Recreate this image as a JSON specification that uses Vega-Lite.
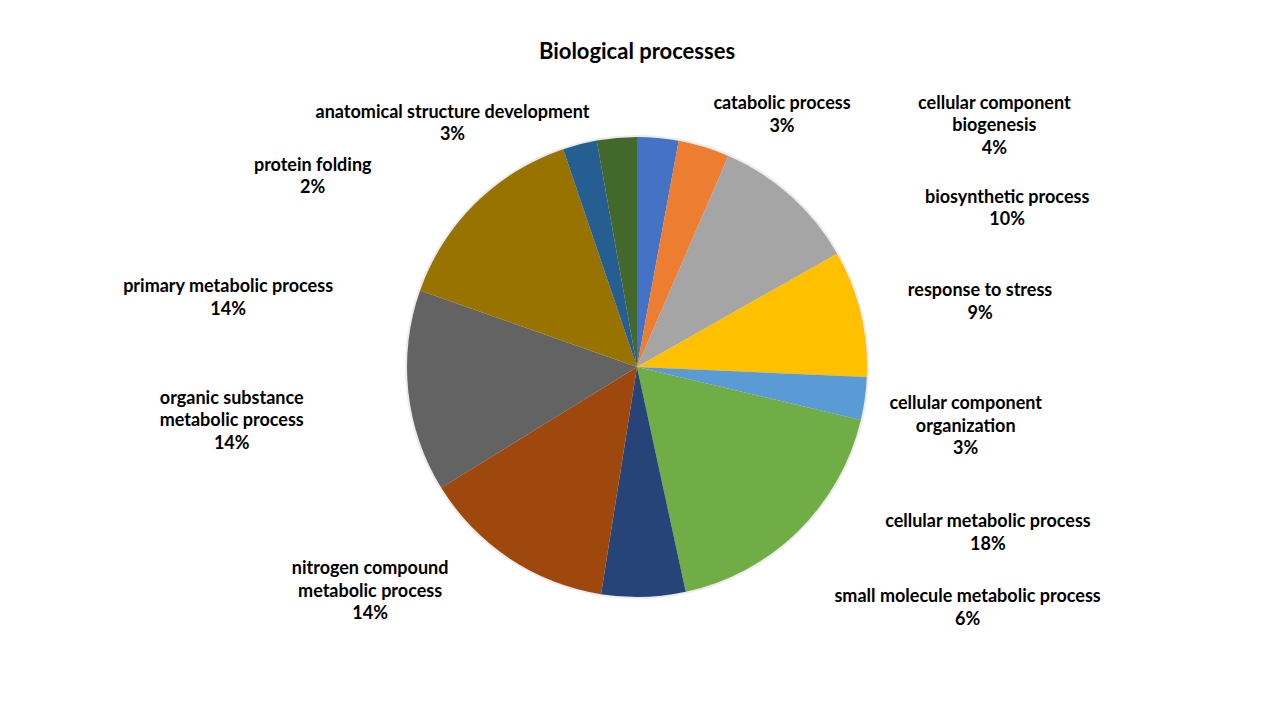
{
  "$schema": "https://vega.github.io/schema/vega-lite/v6.json",
  "width": 1274,
  "height": 600,
  "autosize": {"type": "none"},
  "padding": {"left": 0, "top": 67, "right": 6, "bottom": 53},
  "background": "white",
  "view": {"stroke": null},
  "title": {"text": "Biological processes", "font": "Lato", "fontSize": 22, "fontWeight": "bold", "color": "#000000", "offset": 3, "anchor": "middle", "frame": "group"},
  "data": {"values": [
    {"order": 1, "cat": "catabolic process", "value": 2.9, "label": "catabolic process\n3%"},
    {"order": 2, "cat": "cellular component biogenesis", "value": 3.6, "label": "cellular component\nbiogenesis\n4%"},
    {"order": 3, "cat": "biosynthetic process", "value": 10.3, "label": "biosynthetic process\n10%"},
    {"order": 4, "cat": "response to stress", "value": 8.9, "label": "response to stress\n9%"},
    {"order": 5, "cat": "cellular component organization", "value": 3.0, "label": "cellular component\norganization\n3%"},
    {"order": 6, "cat": "cellular metabolic process", "value": 17.9, "label": "cellular metabolic process\n18%"},
    {"order": 7, "cat": "small molecule metabolic process", "value": 5.9, "label": "small molecule metabolic process\n6%"},
    {"order": 8, "cat": "nitrogen compound metabolic process", "value": 13.7, "label": "nitrogen compound\nmetabolic process\n14%"},
    {"order": 9, "cat": "organic substance metabolic process", "value": 14.2, "label": "organic substance\nmetabolic process\n14%"},
    {"order": 10, "cat": "primary metabolic process", "value": 14.4, "label": "primary metabolic process\n14%"},
    {"order": 11, "cat": "protein folding", "value": 2.4, "label": "protein folding\n2%"},
    {"order": 12, "cat": "anatomical structure development", "value": 2.8, "label": "anatomical structure development\n3%"}
  ]},
  "transform": [
    {"stack": "value", "groupby": [], "sort": [{"field": "order", "order": "ascending"}], "offset": "normalize", "as": ["v0", "v1"]}
  ],
  "encoding": {
    "theta": {"field": "v0", "type": "quantitative", "scale": {"domain": [0, 1]}},
    "theta2": {"field": "v1"}
  },
  "layer": [
    {
      "mark": {"type": "arc", "outerRadius": 232, "color": "#bfbfbf", "opacity": 0.3},
      "encoding": {}
    },
    {
      "mark": {"type": "arc", "outerRadius": 230},
      "encoding": {
        "color": {
          "field": "cat", "type": "nominal", "legend": null,
          "scale": {
            "domain": ["catabolic process", "cellular component biogenesis", "biosynthetic process", "response to stress", "cellular component organization", "cellular metabolic process", "small molecule metabolic process", "nitrogen compound metabolic process", "organic substance metabolic process", "primary metabolic process", "protein folding", "anatomical structure development"],
            "range": ["#4472C4", "#ED7D31", "#A5A5A5", "#FFC000", "#5B9BD5", "#70AD47", "#264478", "#9E480E", "#636363", "#997300", "#255E91", "#43682B"]
          }
        }
      }
    },
    {"transform": [{"filter": "datum.cat === 'catabolic process'"}],
     "mark": {"type": "text", "radius": 300, "dx": 145, "dy": 37, "font": "Lato", "fontSize": 18, "fontWeight": "bold", "lineHeight": 22.5, "lineBreak": "\n", "align": "center", "baseline": "middle", "color": "#000000"},
     "encoding": {"text": {"field": "label", "type": "nominal"}}},
    {"transform": [{"filter": "datum.cat === 'cellular component biogenesis'"}],
     "mark": {"type": "text", "radius": 300, "dx": 303, "dy": 32, "font": "Lato", "fontSize": 18, "fontWeight": "bold", "lineHeight": 22.5, "lineBreak": "\n", "align": "center", "baseline": "middle", "color": "#000000"},
     "encoding": {"text": {"field": "label", "type": "nominal"}}},
    {"transform": [{"filter": "datum.cat === 'biosynthetic process'"}],
     "mark": {"type": "text", "radius": 300, "dx": 251, "dy": 106, "font": "Lato", "fontSize": 18, "fontWeight": "bold", "lineHeight": 22.5, "lineBreak": "\n", "align": "center", "baseline": "middle", "color": "#000000"},
     "encoding": {"text": {"field": "label", "type": "nominal"}}},
    {"transform": [{"filter": "datum.cat === 'response to stress'"}],
     "mark": {"type": "text", "radius": 300, "dx": 82, "dy": 72, "font": "Lato", "fontSize": 18, "fontWeight": "bold", "lineHeight": 22.5, "lineBreak": "\n", "align": "center", "baseline": "middle", "color": "#000000"},
     "encoding": {"text": {"field": "label", "type": "nominal"}}},
    {"transform": [{"filter": "datum.cat === 'cellular component organization'"}],
     "mark": {"type": "text", "radius": 300, "dx": 29, "dy": 24, "font": "Lato", "fontSize": 18, "fontWeight": "bold", "lineHeight": 22.5, "lineBreak": "\n", "align": "center", "baseline": "middle", "color": "#000000"},
     "encoding": {"text": {"field": "label", "type": "nominal"}}},
    {"transform": [{"filter": "datum.cat === 'cellular metabolic process'"}],
     "mark": {"type": "text", "radius": 300, "dx": 59, "dy": 86, "font": "Lato", "fontSize": 18, "fontWeight": "bold", "lineHeight": 22.5, "lineBreak": "\n", "align": "center", "baseline": "middle", "color": "#000000"},
     "encoding": {"text": {"field": "label", "type": "nominal"}}},
    {"transform": [{"filter": "datum.cat === 'small molecule metabolic process'"}],
     "mark": {"type": "text", "radius": 300, "dx": 267, "dy": -63, "font": "Lato", "fontSize": 18, "fontWeight": "bold", "lineHeight": 22.5, "lineBreak": "\n", "align": "center", "baseline": "middle", "color": "#000000"},
     "encoding": {"text": {"field": "label", "type": "nominal"}}},
    {"transform": [{"filter": "datum.cat === 'nitrogen compound metabolic process'"}],
     "mark": {"type": "text", "radius": 300, "dx": -220, "dy": -94, "font": "Lato", "fontSize": 18, "fontWeight": "bold", "lineHeight": 22.5, "lineBreak": "\n", "align": "center", "baseline": "middle", "color": "#000000"},
     "encoding": {"text": {"field": "label", "type": "nominal"}}},
    {"transform": [{"filter": "datum.cat === 'organic substance metabolic process'"}],
     "mark": {"type": "text", "radius": 300, "dx": -150, "dy": -126, "font": "Lato", "fontSize": 18, "fontWeight": "bold", "lineHeight": 22.5, "lineBreak": "\n", "align": "center", "baseline": "middle", "color": "#000000"},
     "encoding": {"text": {"field": "label", "type": "nominal"}}},
    {"transform": [{"filter": "datum.cat === 'primary metabolic process'"}],
     "mark": {"type": "text", "radius": 300, "dx": -126, "dy": 20, "font": "Lato", "fontSize": 18, "fontWeight": "bold", "lineHeight": 22.5, "lineBreak": "\n", "align": "center", "baseline": "middle", "color": "#000000"},
     "encoding": {"text": {"field": "label", "type": "nominal"}}},
    {"transform": [{"filter": "datum.cat === 'protein folding'"}],
     "mark": {"type": "text", "radius": 300, "dx": -228, "dy": 83, "font": "Lato", "fontSize": 18, "fontWeight": "bold", "lineHeight": 22.5, "lineBreak": "\n", "align": "center", "baseline": "middle", "color": "#000000"},
     "encoding": {"text": {"field": "label", "type": "nominal"}}},
    {"transform": [{"filter": "datum.cat === 'anatomical structure development'"}],
     "mark": {"type": "text", "radius": 300, "dx": -132, "dy": 41, "font": "Lato", "fontSize": 18, "fontWeight": "bold", "lineHeight": 22.5, "lineBreak": "\n", "align": "center", "baseline": "middle", "color": "#000000"},
     "encoding": {"text": {"field": "label", "type": "nominal"}}}
  ]
}
